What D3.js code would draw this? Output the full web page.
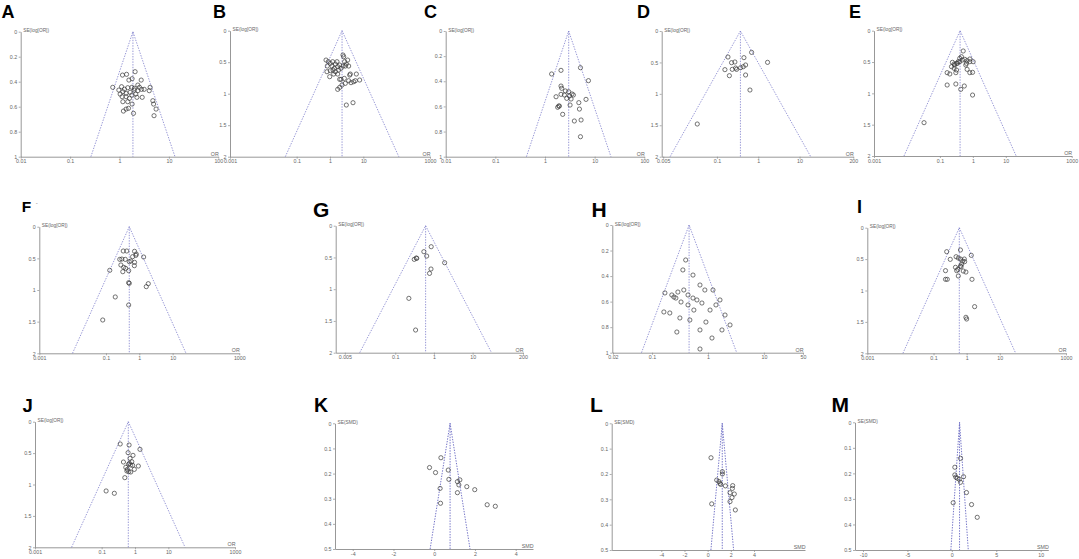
<!DOCTYPE html>
<html><head><meta charset="utf-8">
<script src="https://cdn.jsdelivr.net/npm/d3@7"></script>
<style>body{margin:0;background:#fff}svg{display:block}</style>
</head><body>
<svg id="c" width="1079" height="559"></svg>
<script>
// ---------- DATA (OR or SMD, SE) ----------
const pointsA = [[2.07,0.32],[1.15,0.347],[1.39,0.341],[1.55,0.387],[1.8,0.376],[2.75,0.387],[0.73,0.445],[1.1,0.44],[1.26,0.46],[1.47,0.448],[1.78,0.445],[2.0,0.453],[2.35,0.427],[2.54,0.445],[2.79,0.461],[3.16,0.461],[4.0,0.472],[4.17,0.445],[1.17,0.48],[1.36,0.493],[1.64,0.485],[1.98,0.467],[2.14,0.499],[2.35,0.472],[1.13,0.52],[1.36,0.52],[1.59,0.533],[1.78,0.507],[2.25,0.525],[2.88,0.525],[1.17,0.56],[1.47,0.56],[1.8,0.579],[1.52,0.613],[4.73,0.552],[4.9,0.579],[5.5,0.619],[1.36,0.619],[1.2,0.635],[1.92,0.653],[5.0,0.672],[1.03,0.499],[0.97,0.467]];
const pointsB = [[0.76,0.466],[0.89,0.492],[1.02,0.519],[1.2,0.492],[0.83,0.561],[1.15,0.561],[1.45,0.529],[1.7,0.571],[1.35,0.598],[1.02,0.635],[0.81,0.651],[1.45,0.651],[1.82,0.624],[2.14,0.598],[2.45,0.561],[2.57,0.413],[2.45,0.386],[2.75,0.492],[3.09,0.529],[3.39,0.466],[3.63,0.561],[2.88,0.561],[1.95,0.545],[0.98,0.73],[1.29,0.688],[1.7,0.688],[1.95,0.772],[2.69,0.757],[3.89,0.704],[4.07,0.688],[6.17,0.688],[7.76,0.783],[5.13,0.81],[4.27,0.825],[3.63,0.794],[2.88,0.836],[2.29,0.862],[1.95,0.9],[1.7,0.931],[2.14,0.772],[5.75,0.794],[3.09,1.18],[4.9,1.143],[1.23,0.624],[1.62,0.492]];
const pointsC = [[5.18,0.292],[2.1,0.313],[1.36,0.342],[7.5,0.395],[2.1,0.438],[2.17,0.456],[1.67,0.523],[2.1,0.504],[2.57,0.477],[3.0,0.483],[3.1,0.517],[3.5,0.501],[3.73,0.509],[2.74,0.536],[3.35,0.541],[2.46,0.509],[6.7,0.544],[4.8,0.57],[3.2,0.589],[1.95,0.597],[1.8,0.607],[4.94,0.621],[2.27,0.663],[5.33,0.708],[3.9,0.716],[5.18,0.841],[1.89,0.597]];
const pointsD = [[0.69,0.34],[0.185,0.414],[0.45,0.424],[1.68,0.499],[0.226,0.504],[0.272,0.493],[0.494,0.541],[0.434,0.568],[0.374,0.584],[0.283,0.589],[0.299,0.61],[0.235,0.61],[0.156,0.615],[0.494,0.7],[0.2,0.711],[0.63,0.939],[0.0334,1.48]];
const pointsE = [[0.51,0.324],[0.45,0.415],[0.4,0.441],[0.57,0.457],[0.67,0.479],[0.81,0.452],[1.02,0.495],[0.64,0.521],[0.36,0.495],[0.32,0.521],[0.28,0.548],[0.24,0.505],[0.225,0.574],[0.27,0.601],[0.32,0.628],[0.305,0.67],[0.34,0.521],[0.4,0.495],[0.485,0.468],[0.61,0.548],[0.67,0.617],[0.166,0.67],[0.2,0.691],[0.81,0.67],[0.98,0.665],[0.166,0.867],[0.305,0.851],[0.55,0.883],[0.43,0.936],[0.98,1.027],[0.033,1.468],[0.81,0.495],[0.27,0.532]];
const pointsF = [[0.33,0.384],[0.42,0.384],[0.72,0.389],[0.81,0.432],[0.79,0.453],[0.63,0.474],[1.35,0.479],[0.3,0.511],[0.38,0.516],[0.5,0.553],[0.56,0.542],[0.72,0.563],[0.71,0.616],[0.28,0.605],[0.34,0.642],[0.39,0.658],[0.32,0.711],[0.48,0.695],[0.13,0.689],[0.48,0.884],[0.5,0.895],[1.86,0.9],[1.62,0.947],[0.19,1.11],[0.48,1.237],[0.08,1.474],[0.26,0.516]];
const pointsG = [[0.85,0.331],[0.55,0.409],[0.65,0.478],[0.36,0.514],[0.31,0.53],[1.89,0.583],[0.84,0.682],[0.77,0.751],[0.225,1.144],[0.336,1.643],[0.35,0.509]];
const pointsH = [[0.40,0.274],[0.356,0.352],[0.54,0.392],[0.72,0.47],[0.88,0.509],[1.23,0.509],[1.64,0.587],[1.39,0.626],[1.09,0.666],[2.02,0.705],[2.48,0.783],[1.78,0.822],[0.72,0.822],[0.475,0.744],[0.315,0.728],[0.208,0.689],[0.17,0.532],[0.226,0.548],[0.246,0.564],[0.29,0.525],[0.267,0.572],[0.37,0.509],[0.44,0.548],[0.54,0.572],[0.635,0.587],[0.78,0.611],[0.44,0.626],[0.56,0.666],[0.33,0.603],[0.163,0.681],[0.278,0.838],[0.72,0.971],[1.18,0.885],[0.92,0.76]];
const pointsI = [[0.65,0.355],[0.25,0.382],[1.38,0.44],[0.48,0.462],[0.56,0.483],[0.32,0.504],[0.65,0.499],[0.85,0.499],[0.76,0.531],[0.87,0.541],[0.71,0.578],[0.65,0.61],[0.46,0.631],[0.54,0.663],[0.5,0.684],[0.23,0.684],[0.79,0.69],[0.95,0.706],[0.56,0.769],[0.23,0.822],[0.26,0.822],[1.45,0.822],[1.74,1.257],[0.95,1.427],[1.0,1.454],[0.68,0.621]];
const pointsJ = [[0.36,0.355],[0.665,0.371],[1.41,0.44],[0.62,0.493],[0.87,0.536],[0.71,0.584],[0.45,0.642],[0.8,0.637],[0.64,0.679],[0.745,0.69],[0.85,0.695],[1.26,0.706],[0.53,0.727],[0.59,0.759],[0.955,0.759],[0.57,0.785],[0.65,0.796],[0.745,0.801],[0.495,0.891],[0.136,1.103],[0.24,1.14],[0.68,0.663]];
const pointsK = [[0.33,0.137],[-0.23,0.176],[0.065,0.196],[0.69,0.186],[0.72,0.223],[1.26,0.225],[1.14,0.232],[1.21,0.245],[1.6,0.252],[1.99,0.264],[0.29,0.259],[1.14,0.276],[0.31,0.318],[2.6,0.324],[3.0,0.33]];
const pointsL = [[0.29,0.136],[1.27,0.191],[1.27,0.2],[0.78,0.224],[0.98,0.23],[1.06,0.237],[1.12,0.241],[1.53,0.247],[2.16,0.246],[2.13,0.257],[1.93,0.274],[2.3,0.279],[2.1,0.293],[1.93,0.309],[2.39,0.342],[0.35,0.318]];
const pointsM = [[0.98,0.141],[0.34,0.176],[0.34,0.206],[0.45,0.215],[0.6,0.219],[0.83,0.223],[0.98,0.235],[1.32,0.213],[1.65,0.275],[0.15,0.315],[2.22,0.322],[2.86,0.372]];

const panelIds    = ["A","B","C","D","E","F","G","H","I","J","K","L","M"];
const pooledValues = [1.87,2.3,3.0,0.37,0.41,0.5,0.61,0.46,0.6,0.63,0.78,1.26,0.87];
const xDomains = [[0.01,100],[0.001,1000],[0.01,100],[0.0046,200],[0.001,1000],[0.001,1000],[0.0029,200],[0.0195,50],[0.001,1000],[0.001,1000],[-4.87,4.85],[-8.28,8.4],[-10.9,10.86]];
const xTickValues = [[0.01,0.1,1,10,100],[0.001,0.1,1,10,1000],[0.01,0.1,1,10,100],[0.005,0.1,1,10,200],[0.001,0.1,1,10,1000],[0.001,0.1,1,10,1000],[0.005,0.1,1,10,200],[0.02,0.1,1,10,50],[0.001,0.1,1,10,1000],[0.001,0.1,1,10,1000],[-4,-2,0,2,4],[-4,-2,0,2,4],[-10,-5,0,5,10]];
const seMaxValues = [1,2,1,2,2,2,2,1,2,2,0.5,0.5,0.5];
const seTicks1 = [0,0.2,0.4,0.6,0.8,1];
const seTicks2 = [0,0.5,1,1.5,2];
const seTicks05 = [0,0.1,0.2,0.3,0.4,0.5];
const yLabels = ["SE(log[OR])","SE(SMD)"];
const xLabels = ["OR","SMD"];
const allPoints = [pointsA,pointsB,pointsC,pointsD,pointsE,pointsF,pointsG,pointsH,pointsI,pointsJ,pointsK,pointsL,pointsM];

// ---------- LAYOUT ----------
const layout = [
  {x0:20.7, x1:218.3, y0:31.7, y1:156.7, lx:1.5, ly:18.3, fs:18},
  {x0:230,  x1:430,   y0:30.7, y1:156.7, lx:213, ly:18.3, fs:18},
  {x0:445.7,x1:644.3, y0:31,   y1:156.7, lx:424, ly:18.3, fs:18},
  {x0:661.7,x1:853.3, y0:31,   y1:156.7, lx:637, ly:18.3, fs:18},
  {x0:874,  x1:1071.7,y0:30.7, y1:156,   lx:849, ly:18.3, fs:18},
  {x0:39.3, x1:239.3, y0:226.7,y1:353.3, lx:21.7,ly:211.7,fs:15.5},
  {x0:335.7,x1:523,   y0:225.7,y1:352.7, lx:313, ly:216.7,fs:21},
  {x0:612.3,x1:803,   y0:225,  y1:352.7, lx:591.5,ly:217, fs:21},
  {x0:867.3,x1:1066,  y0:227.7,y1:353.3, lx:857, ly:213,  fs:18},
  {x0:35,   x1:235,   y0:421.7,y1:547.3, lx:22.5,ly:411.7,fs:18.5},
  {x0:335,  x1:533,   y0:423.3,y1:549,   lx:314, ly:412,  fs:19.5},
  {x0:611.7,x1:805,   y0:423.3,y1:550,   lx:590, ly:412.3,fs:21},
  {x0:855,  x1:1048.3,y0:422.3,y1:550,   lx:831.5,ly:412, fs:21}
];

const svg = d3.select("#c");
const axisColor = "#8c8c8c", funnelColor = "#7575c8", textColor = "#666";
const fontFam = "Liberation Sans, Arial, sans-serif";
const fmt = d => String(d);

panelIds.forEach((id, i) => {
  const L = layout[i];
  const isSMD = i >= 10;
  const g = svg.append("g");
  const x = isSMD ? d3.scaleLinear().domain(xDomains[i]).range([L.x0, L.x1])
                  : d3.scaleLog().domain(xDomains[i]).range([L.x0, L.x1]);
  const seMax = seMaxValues[i];
  const y = d3.scaleLinear().domain([0, seMax]).range([L.y0, L.y1]);
  const seTicks = seMax === 1 ? seTicks1 : (seMax === 2 ? seTicks2 : seTicks05);

  const xa = g.append("g").attr("transform", `translate(0,${L.y1})`)
    .call(d3.axisBottom(x).tickValues(xTickValues[i]).tickFormat(fmt).tickSize(2).tickSizeOuter(0).tickPadding(0.8));
  const ya = g.append("g").attr("transform", `translate(${L.x0},0)`)
    .call(d3.axisLeft(y).tickValues(seTicks).tickFormat(fmt).tickSize(2).tickSizeOuter(0).tickPadding(1.5));
  [xa, ya].forEach(a => {
    a.select(".domain").attr("stroke", axisColor).attr("stroke-width", 0.9);
    a.selectAll(".tick line").attr("stroke", axisColor).attr("stroke-width", 0.7);
    a.selectAll(".tick text").attr("fill", textColor).attr("font-size", 5.3)
      .attr("font-family", fontFam);
  });

  // funnel (pooled estimate ± 1.96·SE)
  const c = pooledValues[i];
  const lo = isSMD ? c - 1.96 * seMax : c * Math.exp(-1.96 * seMax);
  const hi = isSMD ? c + 1.96 * seMax : c * Math.exp(1.96 * seMax);
  const lw = isSMD ? 1.0 : 0.75;
  g.append("path")
    .attr("d", d3.line()([[x(lo), y(seMax)], [x(c), y(0)], [x(hi), y(seMax)]]))
    .attr("fill", "none").attr("stroke", funnelColor).attr("stroke-width", lw)
    .attr("stroke-dasharray", "1.4,1.3");
  g.append("line")
    .attr("x1", x(c)).attr("x2", x(c)).attr("y1", y(0)).attr("y2", y(seMax))
    .attr("stroke", funnelColor).attr("stroke-width", lw).attr("stroke-dasharray", "1.4,1.3");

  // study points
  g.selectAll("circle.pt").data(allPoints[i]).join("circle")
    .attr("cx", d => x(d[0])).attr("cy", d => y(d[1])).attr("r", 2.1)
    .attr("fill", "none").attr("stroke", "#3a3a3a").attr("stroke-width", 0.7);

  // axis titles
  g.append("text").attr("x", L.x0 + 2.5).attr("y", L.y0 + 0.5)
    .attr("font-size", 4.8).attr("fill", textColor).attr("font-family", fontFam)
    .text(yLabels[isSMD ? 1 : 0]);
  g.append("text").attr("x", L.x1 + 0.5).attr("y", L.y1 - 1.2).attr("text-anchor", "end")
    .attr("font-size", 5.3).attr("fill", textColor).attr("font-family", fontFam)
    .text(xLabels[isSMD ? 1 : 0]);

  // panel letter
  g.append("text").attr("x", L.lx).attr("y", L.ly)
    .attr("font-size", L.fs).attr("font-weight", "bold").attr("fill", "#000")
    .attr("font-family", fontFam)
    .text(id);
  if (id === "F") {
    g.append("text").attr("x", L.lx + 14).attr("y", L.ly - 7)
      .attr("font-size", 6).attr("fill", "#777").attr("font-family", fontFam).text("-");
  }
});
</script>
</body></html>
